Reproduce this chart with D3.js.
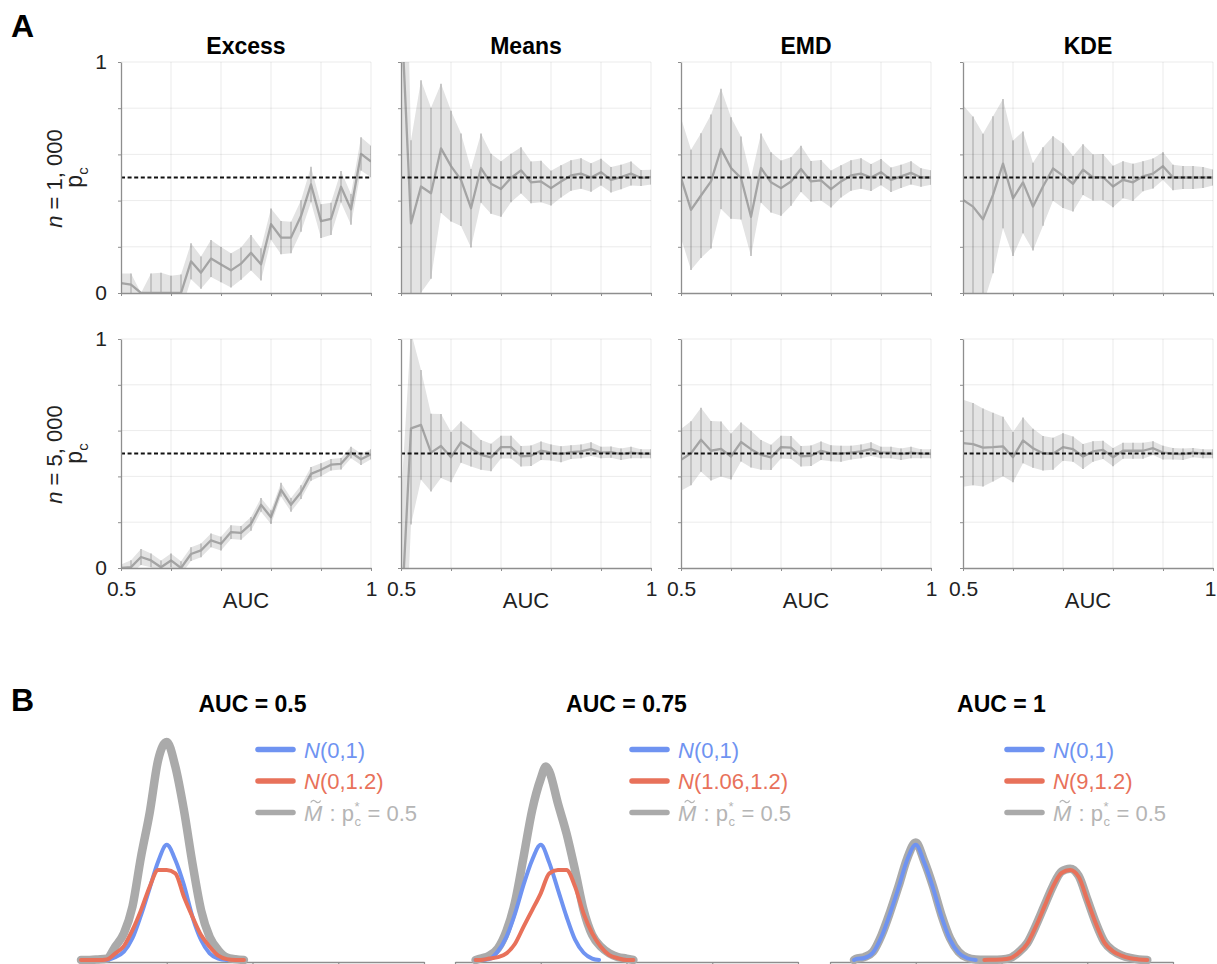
<!DOCTYPE html>
<html><head><meta charset="utf-8">
<script src="https://cdn.jsdelivr.net/npm/d3@7"></script>
<style>
body{margin:0;background:#fff;}
text{font-family:"Liberation Sans",Arial,Helvetica,sans-serif;}
</style></head><body>
<svg id="fig" width="1217" height="964"></svg>
<script>
// ---------------- DATA ----------------
const auc = [0.50,0.52,0.54,0.56,0.58,0.60,0.62,0.64,0.66,0.68,0.70,0.72,0.74,0.76,0.78,0.80,0.82,0.84,0.86,0.88,0.90,0.92,0.94,0.96,0.98,1.00];
const methods = ["Excess","Means","EMD","KDE"];
const rowSizes = ["1, 000","5, 000"];
const yTickLabels = ["0","1"];
const xTickLabels = ["0.5","1"];
const xAxisTitle = "AUC";
const pcRef = 0.5;

const excess1000Mean = [0.043,0.036,0,0,0,0,0,0.137,0.088,0.149,0.123,0.098,0.127,0.174,0.124,0.298,0.24,0.24,0.333,0.47,0.311,0.321,0.46,0.362,0.602,0.569];
const excess1000Err  = [0.041,0.048,0,0.084,0.088,0.075,0.08,0.078,0.07,0.08,0.076,0.074,0.07,0.077,0.07,0.068,0.072,0.068,0.068,0.077,0.073,0.07,0.068,0.067,0.072,0.068];
const means1000Mean  = [1.25,0.301,0.461,0.432,0.626,0.549,0.49,0.367,0.541,0.473,0.45,0.498,0.531,0.479,0.483,0.454,0.483,0.509,0.517,0.5,0.523,0.49,0.502,0.517,0.498,0.502];
const means1000Err   = [1.3,0.36,0.46,0.37,0.28,0.24,0.2,0.17,0.15,0.13,0.12,0.105,0.1,0.09,0.09,0.075,0.07,0.066,0.066,0.062,0.058,0.055,0.053,0.052,0.035,0.032];
const emd1000Mean    = [0.498,0.36,0.422,0.483,0.624,0.541,0.498,0.33,0.541,0.479,0.454,0.483,0.537,0.483,0.488,0.45,0.483,0.509,0.517,0.5,0.523,0.49,0.505,0.52,0.5,0.5];
const emd1000Err     = [0.26,0.26,0.27,0.29,0.26,0.22,0.18,0.17,0.15,0.13,0.12,0.105,0.1,0.088,0.088,0.08,0.07,0.066,0.066,0.058,0.057,0.053,0.05,0.05,0.04,0.031];
const kde1000Mean    = [0.403,0.374,0.319,0.425,0.56,0.41,0.479,0.374,0.461,0.539,0.508,0.473,0.534,0.5,0.502,0.461,0.49,0.479,0.505,0.517,0.549,0.5,0.5,0.5,0.5,0.5];
const kde1000Err     = [0.41,0.39,0.37,0.34,0.28,0.25,0.22,0.19,0.17,0.14,0.14,0.12,0.11,0.1,0.1,0.09,0.08,0.08,0.065,0.065,0.06,0.055,0.05,0.05,0.045,0.035];

const excess5000Mean = [0,0.004,0.048,0.033,0.003,0.033,0,0.061,0.077,0.121,0.106,0.157,0.153,0.193,0.276,0.222,0.342,0.276,0.331,0.411,0.429,0.451,0.455,0.504,0.475,0.497];
const excess5000Err  = [0.015,0.03,0.035,0.03,0.03,0.03,0.03,0.03,0.03,0.03,0.03,0.03,0.03,0.03,0.03,0.03,0.03,0.03,0.03,0.03,0.028,0.025,0.025,0.025,0.025,0.022];
const means5000Mean  = [-0.25,0.61,0.625,0.504,0.533,0.484,0.55,0.523,0.494,0.483,0.528,0.528,0.488,0.49,0.512,0.504,0.497,0.506,0.509,0.519,0.504,0.506,0.497,0.504,0.499,0.499];
const means5000Err   = [0.55,0.42,0.24,0.17,0.14,0.11,0.09,0.08,0.065,0.06,0.05,0.05,0.045,0.045,0.04,0.035,0.035,0.03,0.03,0.03,0.025,0.025,0.025,0.025,0.02,0.02];
const emd5000Mean    = [0.472,0.501,0.56,0.512,0.52,0.487,0.55,0.519,0.494,0.483,0.528,0.526,0.488,0.49,0.512,0.501,0.499,0.504,0.509,0.519,0.504,0.504,0.497,0.504,0.499,0.499];
const emd5000Err     = [0.135,0.14,0.14,0.13,0.12,0.1,0.085,0.08,0.065,0.055,0.05,0.05,0.045,0.045,0.04,0.035,0.035,0.03,0.03,0.03,0.025,0.025,0.025,0.025,0.02,0.02];
const kde5000Mean    = [0.545,0.541,0.526,0.528,0.531,0.484,0.557,0.523,0.501,0.499,0.528,0.519,0.487,0.509,0.516,0.484,0.512,0.512,0.512,0.523,0.504,0.499,0.497,0.504,0.499,0.499];
const kde5000Err     = [0.19,0.18,0.17,0.15,0.13,0.11,0.1,0.085,0.075,0.07,0.06,0.055,0.055,0.045,0.04,0.04,0.035,0.035,0.035,0.03,0.03,0.025,0.025,0.02,0.02,0.02];

// Panel B: density curves
const bTitles = ["AUC = 0.5","AUC = 0.75","AUC = 1"];
const legendBlue = ["N(0,1)","N(0,1)","N(0,1)"];
const legendRed  = ["N(0,1.2)","N(1.06,1.2)","N(9,1.2)"];
const bTicks = [-5,0,5,10,15];

const b1BlueX = [-3.5,-3,-2.5,-2,-1.5,-1,-0.5,0,0.5,1,1.5,2,2.5,3,3.5];
const b1BlueY = [0,0.01,0.029,0.075,0.155,0.247,0.34,0.397,0.345,0.259,0.149,0.069,0.023,0.005,0];
const b1RedX  = [-5,-4.5,-4,-3.5,-3,-2.5,-2,-1.5,-1,-0.5,0,0.5,1,1.5,2,2.5,3,3.5,4,4.5];
const b1RedY  = [0,0,0,0.002,0.023,0.048,0.103,0.172,0.252,0.31,0.31,0.299,0.218,0.149,0.086,0.046,0.015,0.003,0,0];
const b1GreyX = [-5,-4.5,-4,-3.5,-3,-2.5,-2,-1.5,-1,-0.5,0,0.5,1,1.5,2,2.5,3,3.5,4,4.5];
const b1GreyY = [0,0,0.002,0.005,0.046,0.092,0.184,0.356,0.506,0.69,0.752,0.667,0.517,0.333,0.172,0.08,0.034,0.009,0.003,0];

const b2BlueX = [-3.8,-3.5,-3,-2.5,-2,-1.5,-1,-0.5,0,0.5,1,1.5,2,2.5,3,3.4];
const b2BlueY = [0,0,0.003,0.03,0.08,0.16,0.26,0.345,0.397,0.335,0.243,0.15,0.07,0.025,0.005,0];
const b2RedX  = [-3.8,-3.5,-3,-2.5,-2,-1.5,-1,-0.5,0,0.5,1,1.5,2,2.5,3,3.5,4,4.5,5,5.4];
const b2RedY  = [0,0,0.005,0.01,0.023,0.056,0.115,0.172,0.23,0.299,0.31,0.31,0.253,0.16,0.092,0.046,0.017,0.006,0,0];
const b2GreyX = [-3.8,-3.5,-3,-2.5,-2,-1.5,-1,-0.5,0,0.3,0.5,1,1.5,2,2.5,3,3.5,4,4.5,5,5.4];
const b2GreyY = [0,0.005,0.015,0.04,0.1,0.2,0.356,0.517,0.625,0.667,0.65,0.54,0.437,0.31,0.172,0.086,0.046,0.023,0.01,0.005,0];

const b3BlueX = [-3.6,-3.5,-3,-2.5,-2,-1.5,-1,-0.5,0,0.5,1,1.5,2,2.5,3,3.5];
const b3BlueY = [0,0.003,0.007,0.025,0.08,0.16,0.25,0.345,0.397,0.335,0.25,0.15,0.07,0.025,0.006,0];
const b3RedX  = [4,4.5,5,5.5,6,6.5,7,7.5,8,8.5,9,9.5,10,10.5,11,11.5,12,12.5,13,13.5];
const b3RedY  = [0,0.001,0.002,0.006,0.025,0.056,0.115,0.184,0.253,0.3,0.31,0.287,0.207,0.126,0.06,0.03,0.015,0.006,0.002,0];
const b3GreyX = [-3.6,-3.5,-3,-2.5,-2,-1.5,-1,-0.5,0,0.5,1,1.5,2,2.5,3,3.5,4,4.5,5,5.5,6,6.5,7,7.5,8,8.5,9,9.5,10,10.5,11,11.5,12,12.5,13,13.5];
const b3GreyY = [0,0.004,0.01,0.028,0.085,0.165,0.255,0.35,0.405,0.34,0.255,0.155,0.075,0.028,0.008,0.002,0.001,0.001,0.002,0.007,0.027,0.058,0.118,0.187,0.255,0.305,0.315,0.29,0.21,0.128,0.062,0.032,0.016,0.007,0.002,0];

// ---------------- LAYOUT / STYLE ----------------
const svg = d3.select("#fig");
const C = {band:"#e3e3e3", bar:"#b5b5b5", line:"#a4a4a4", axis:"#8e8e8e",
           blue:"#6f93f1", red:"#e8715a", grey:"#aaaaaa", greyText:"#b5b5b5"};
const panelLeft = [121,401,681,963], panelW = 250;
const rowTop = [62,339], rowBot = [293,568];

const seriesA = [
  [[excess1000Mean,excess1000Err],[means1000Mean,means1000Err],[emd1000Mean,emd1000Err],[kde1000Mean,kde1000Err]],
  [[excess5000Mean,excess5000Err],[means5000Mean,means5000Err],[emd5000Mean,emd5000Err],[kde5000Mean,kde5000Err]]
];

// Panel labels
svg.append("text").attr("x",11).attr("y",37).attr("font-size",32).attr("font-weight","bold").text("A");
svg.append("text").attr("x",11).attr("y",711).attr("font-size",32).attr("font-weight","bold").text("B");

const defs = svg.append("defs");
let clipId = 0;

for (let r = 0; r < 2; r++) {
  for (let c = 0; c < 4; c++) {
    const L = panelLeft[c];
    const x = d3.scaleLinear().domain([0.5,1]).range([L, L+panelW]);
    const y = d3.scaleLinear().domain([0,1]).range([rowBot[r], rowTop[r]]);
    const [mean, err] = seriesA[r][c];
    const data = auc.map((a,i)=>({a, m:mean[i], e:err[i]}));
    const g = svg.append("g");
    const id = "clip"+(clipId++);
    defs.append("clipPath").attr("id",id).append("rect")
      .attr("x",L).attr("y",rowTop[r]).attr("width",panelW).attr("height",rowBot[r]-rowTop[r]);
    const cg = g.append("g").attr("clip-path",`url(#${id})`);

    // band
    cg.append("path").datum(data)
      .attr("d", d3.area().x(d=>x(d.a)).y0(d=>y(d.m-d.e)).y1(d=>y(d.m+d.e)))
      .attr("fill", C.band);

    // grid
    const gridY = [0.2,0.4,0.6,0.8,1.0];
    const gridX = [0.6,0.7,0.8,0.9,1.0];
    g.append("g").selectAll("line").data(gridY).join("line")
      .attr("x1",L).attr("x2",L+panelW).attr("y1",d=>y(d)).attr("y2",d=>y(d))
      .attr("stroke","rgba(0,0,0,0.08)").attr("stroke-width",1);
    g.append("g").selectAll("line").data(gridX).join("line")
      .attr("x1",d=>x(d)).attr("x2",d=>x(d)).attr("y1",y(0)).attr("y2",y(1))
      .attr("stroke","rgba(0,0,0,0.08)").attr("stroke-width",1);

    // error bars
    cg.append("g").selectAll("line").data(data.filter(d=>d.e>0)).join("line")
      .attr("x1",d=>x(d.a)).attr("x2",d=>x(d.a))
      .attr("y1",d=>y(d.m-d.e)).attr("y2",d=>y(d.m+d.e))
      .attr("stroke",C.bar).attr("stroke-width",1.4);

    // mean line
    cg.append("path").datum(data)
      .attr("d", d3.line().x(d=>x(d.a)).y(d=>y(d.m)))
      .attr("fill","none").attr("stroke",C.line).attr("stroke-width",2.3).attr("stroke-linejoin","round");

    // reference dashed line
    g.append("line").attr("x1",L).attr("x2",L+panelW).attr("y1",y(pcRef)).attr("y2",y(pcRef))
      .attr("stroke","#111").attr("stroke-width",2.1).attr("stroke-dasharray","4,2.6");

    // axes
    const ax = d3.axisLeft(y).tickValues([0,0.2,0.4,0.6,0.8,1]).tickSize(3).tickSizeOuter(0).tickPadding(11)
      .tickFormat(d => (c===0 && (d===0||d===1)) ? (d===0?yTickLabels[0]:yTickLabels[1]) : "");
    const ga = g.append("g").attr("transform",`translate(${L},0)`).call(ax);
    const bx = d3.axisBottom(x).tickValues([0.5,0.6,0.7,0.8,0.9,1]).tickSize(3).tickSizeOuter(0).tickPadding(10)
      .tickFormat(d => (r===1 && (d===0.5||d===1)) ? (d===0.5?xTickLabels[0]:xTickLabels[1]) : "");
    const gb = g.append("g").attr("transform",`translate(0,${rowBot[r]})`).call(bx);
    [ga,gb].forEach(a=>{
      a.select(".domain").attr("stroke",C.axis).attr("stroke-width",1.3);
      a.selectAll(".tick line").attr("stroke",C.axis);
      a.selectAll(".tick text").attr("font-size",21).attr("fill","#222")
        .attr("font-family",'"Liberation Sans",Arial,sans-serif');
    });
    if (r===1 && c===3) {
      gb.selectAll(".tick text").filter(d=>d===1).attr("text-anchor","end").attr("dx",3);
    }

    if (r===0) {
      svg.append("text").attr("x",L+panelW/2).attr("y",54).attr("text-anchor","middle")
        .attr("font-size",23).attr("font-weight","bold").text(methods[c]);
    }
    if (r===1) {
      svg.append("text").attr("x",L+panelW/2).attr("y",608).attr("text-anchor","middle")
        .attr("font-size",22).attr("fill","#222").text(xAxisTitle);
    }
  }
  // row labels
  const cy = (rowTop[r]+rowBot[r])/2 + 1;
  const t1 = svg.append("text").attr("transform",`translate(61.5,${cy}) rotate(-90)`)
    .attr("text-anchor","middle").attr("font-size",22).attr("fill","#222").style("white-space","pre");
  t1.append("tspan").attr("font-style","italic").text("n");
  t1.append("tspan").text(" = " + rowSizes[r]);
  const t2 = svg.append("text").attr("transform",`translate(82,${cy-1}) rotate(-90)`)
    .attr("text-anchor","middle").attr("font-size",23).attr("fill","#222");
  t2.append("tspan").text("p");
  t2.append("tspan").attr("font-size",15).attr("dy",6).text("c");
}

// ---------------- PANEL B ----------------
const bLeft = [81,455,830], bW = 343, bBase = 960;
const bCurves = [
  [[b1GreyX,b1GreyY],[b1BlueX,b1BlueY],[b1RedX,b1RedY]],
  [[b2GreyX,b2GreyY],[b2BlueX,b2BlueY],[b2RedX,b2RedY]],
  [[b3GreyX,b3GreyY],[b3BlueX,b3BlueY],[b3RedX,b3RedY]]
];
const curveStyle = [[C.grey,8.5],[C.blue,4],[C.red,4]];

// text-width helper
const meas = svg.append("text").attr("x",-1000).attr("y",-1000).style("white-space","pre");
function tw(str, size, italic){
  meas.attr("font-size",size).attr("font-style",italic?"italic":"normal").text(str);
  return meas.node().getComputedTextLength();
}

for (let k = 0; k < 3; k++) {
  const L = bLeft[k];
  const x = d3.scaleLinear().domain([-5,15]).range([L, L+bW]);
  const y = d3.scaleLinear().domain([0,0.8]).range([bBase, bBase-232]);
  const g = svg.append("g");

  const ax = d3.axisBottom(x).tickValues(bTicks).tickSize(4).tickSizeOuter(0).tickFormat("");
  const ga = g.append("g").attr("transform",`translate(0,${bBase+2})`).call(ax);
  ga.select(".domain").attr("stroke",C.axis).attr("stroke-width",1.3);
  ga.selectAll(".tick line").attr("stroke",C.axis).attr("stroke-width",1.2);

  bCurves[k].forEach((cv,j)=>{
    const pts = cv[0].map((v,i)=>[v, cv[1][i]]);
    g.append("path").datum(pts)
      .attr("d", d3.line().x(d=>x(d[0])).y(d=>y(d[1])).curve(d3.curveMonotoneX))
      .attr("fill","none").attr("stroke",curveStyle[j][0]).attr("stroke-width",curveStyle[j][1])
      .attr("stroke-linejoin","round").attr("stroke-linecap","round");
  });

  // title
  svg.append("text").attr("x",L+bW/2).attr("y",712).attr("text-anchor","middle")
    .attr("font-size",23).attr("font-weight","bold").text(bTitles[k]);

  // legend
  const lx = L+177, ly = [749.5,781,812.5];
  const lg = svg.append("g");
  const lcols = [C.blue, C.red, C.grey];
  ly.forEach((yy,i)=>{
    lg.append("line").attr("x1",lx).attr("x2",lx+35).attr("y1",yy).attr("y2",yy)
      .attr("stroke",lcols[i]).attr("stroke-width",5.5).attr("stroke-linecap","round");
  });
  const tx = lx+46;
  [legendBlue[k], legendRed[k]].forEach((lab,i)=>{
    const t = lg.append("text").attr("x",tx).attr("y",ly[i]+8).attr("font-size",22).attr("fill",lcols[i]);
    t.append("tspan").attr("font-style","italic").text(lab[0]);
    t.append("tspan").text(lab.slice(1));
  });
  // third label (single text element): M~ : p*_c = 0.5
  const yy = ly[2]+8;
  const wM = tw("M",22,true), wS = tw("*",13,false), wC = tw("c",13,false);
  const t3 = lg.append("text").attr("x",tx).attr("y",yy).attr("font-size",22).attr("fill",C.greyText)
    .attr("xml:space","preserve").style("white-space","pre");
  t3.append("tspan").attr("font-style","italic").text("M");
  t3.append("tspan").attr("dx",1).text(" : p");
  t3.append("tspan").attr("font-size",13).attr("dx",0.5).attr("dy",-10).text("*");
  t3.append("tspan").attr("font-size",13).attr("dx",-wS).attr("dy",15).text("c");
  t3.append("tspan").attr("dx",Math.max(wS-wC,0)+0.5).attr("dy",-5).text(" = 0.5");
  // tilde accent over M (drawn as a small stroke)
  const tcx = tx + wM/2 + 2.5, tcy = yy - 19;
  lg.append("path")
    .attr("d",`M${tcx-5},${tcy+1} C${tcx-3},${tcy-2.5} ${tcx-1},${tcy-1} ${tcx},${tcy} C${tcx+1},${tcy+1} ${tcx+3},${tcy+2.5} ${tcx+5},${tcy-1}`)
    .attr("fill","none").attr("stroke",C.greyText).attr("stroke-width",1.3);
}
meas.remove();
</script>
</body></html>
